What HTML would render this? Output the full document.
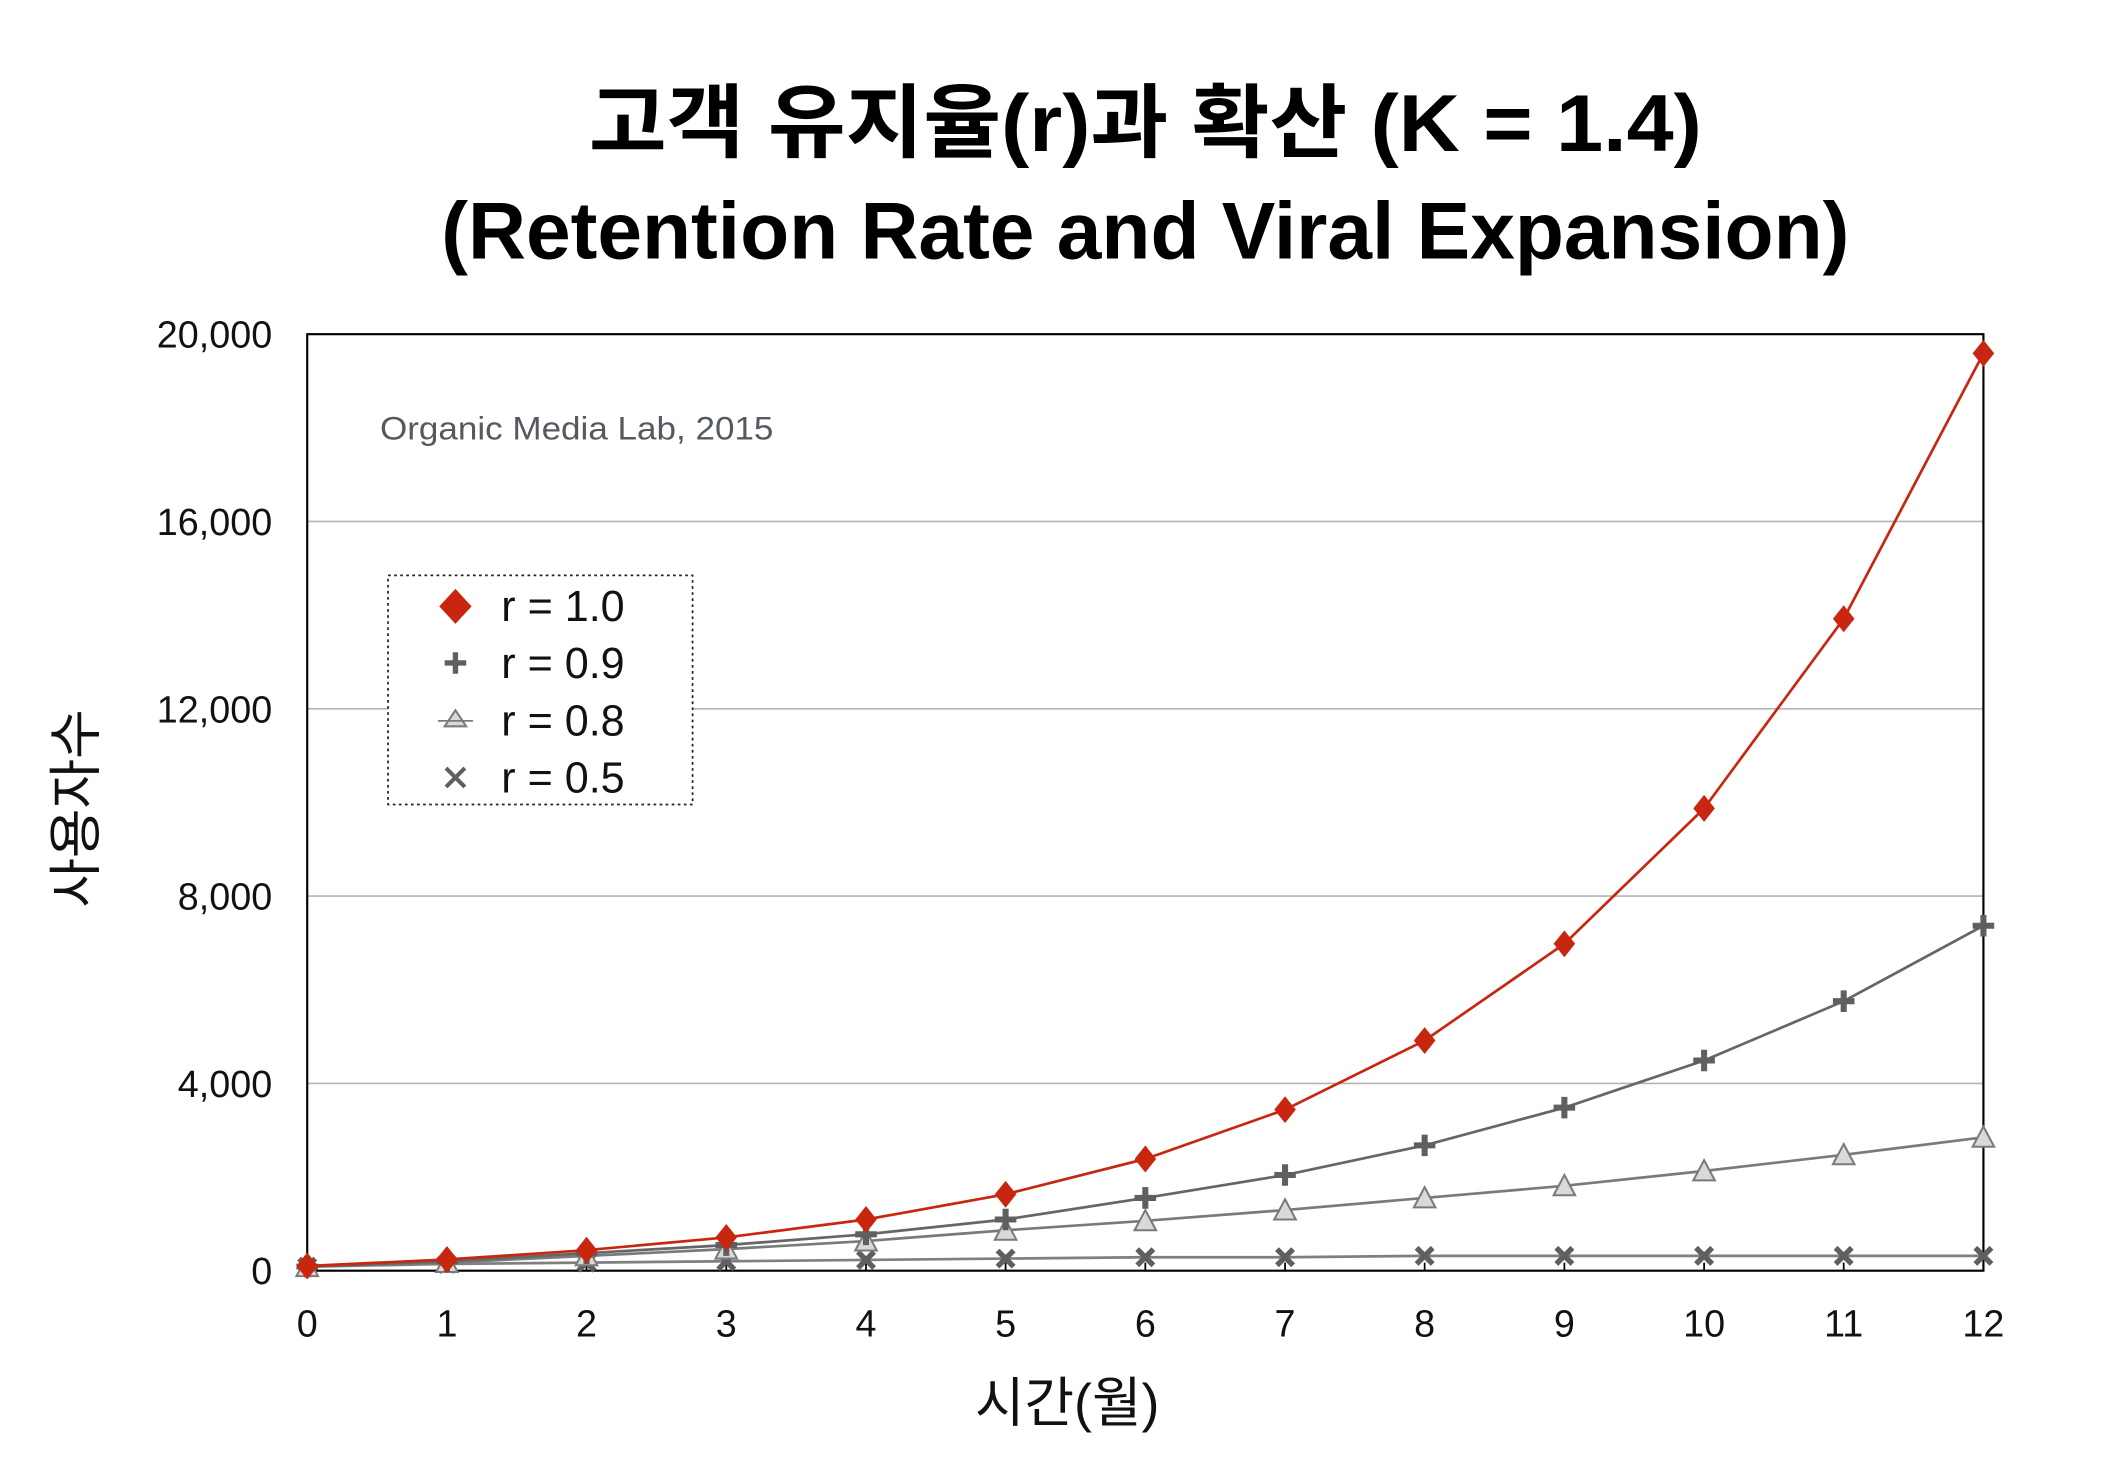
<!DOCTYPE html>
<html><head><meta charset="utf-8"><style>
html,body{margin:0;padding:0;background:#fff;}
svg{display:block;}
text{font-family:"Liberation Sans","Noto Sans CJK KR",sans-serif;}
</style></head><body>
<svg width="2102" height="1458" viewBox="0 0 1560 1082" preserveAspectRatio="none" xmlns="http://www.w3.org/2000/svg">
<defs>
<marker id="dia" markerUnits="userSpaceOnUse" markerWidth="20" markerHeight="24" refX="10" refY="12" overflow="visible"><path d="M10 2 L18 12 L10 22 L2 12 Z" fill="#c8260f"/></marker>
<marker id="plus" markerUnits="userSpaceOnUse" markerWidth="20" markerHeight="20" refX="10" refY="10" overflow="visible"><path d="M10 2 V18 M2 10 H18" stroke="#5f5f5f" stroke-width="4.5"/></marker>
<marker id="tri" markerUnits="userSpaceOnUse" markerWidth="20" markerHeight="20" refX="10" refY="10" overflow="visible"><path d="M10 2 L18 17 L2 17 Z" fill="#d8d9db" stroke="#7a7a7a" stroke-width="1.5"/></marker>
<marker id="x" markerUnits="userSpaceOnUse" markerWidth="20" markerHeight="20" refX="10" refY="10" overflow="visible"><path d="M4 4 L16 16 M16 4 L4 16" stroke="#5f5f5f" stroke-width="4"/></marker>
</defs>
<text x="850" y="112" text-anchor="middle" font-size="60" font-weight="bold" textLength="826" lengthAdjust="spacingAndGlyphs">고객 유지율(r)과 확산 (K = 1.4)</text>
<text x="850" y="192" text-anchor="middle" font-size="60" font-weight="bold" textLength="1045" lengthAdjust="spacingAndGlyphs">(Retention Rate and Viral Expansion)</text>
<g stroke="#b4b4b4" stroke-width="1.2">
<line x1="228" y1="387" x2="1472" y2="387"/><line x1="228" y1="526" x2="1472" y2="526"/><line x1="228" y1="665" x2="1472" y2="665"/><line x1="228" y1="804" x2="1472" y2="804"/>
</g>
<rect x="228" y="248" width="1244" height="695" fill="none" stroke="#000" stroke-width="1.6"/>
<g stroke="#000" stroke-width="1.3">
<line x1="331.7" y1="943" x2="331.7" y2="937"/><line x1="435.3" y1="943" x2="435.3" y2="937"/><line x1="539" y1="943" x2="539" y2="937"/><line x1="642.7" y1="943" x2="642.7" y2="937"/><line x1="746.3" y1="943" x2="746.3" y2="937"/><line x1="850" y1="943" x2="850" y2="937"/><line x1="953.7" y1="943" x2="953.7" y2="937"/><line x1="1057.3" y1="943" x2="1057.3" y2="937"/><line x1="1161" y1="943" x2="1161" y2="937"/><line x1="1264.7" y1="943" x2="1264.7" y2="937"/><line x1="1368.3" y1="943" x2="1368.3" y2="937"/>
</g>
<g font-size="28" text-anchor="end" fill="#111">
<text x="202" y="258">20,000</text><text x="202" y="397">16,000</text><text x="202" y="536">12,000</text><text x="202" y="675">8,000</text><text x="202" y="814">4,000</text><text x="202" y="953">0</text>
</g>
<g font-size="28" text-anchor="middle" fill="#111">
<text x="228" y="992">0</text><text x="331.7" y="992">1</text><text x="435.3" y="992">2</text><text x="539" y="992">3</text><text x="642.7" y="992">4</text><text x="746.3" y="992">5</text><text x="850" y="992">6</text><text x="953.7" y="992">7</text><text x="1057.3" y="992">8</text><text x="1161" y="992">9</text><text x="1264.7" y="992">10</text><text x="1368.3" y="992">11</text><text x="1472" y="992">12</text>
</g>
<text x="792" y="1055" text-anchor="middle" font-size="40" fill="#111">시간(월)</text>
<text transform="translate(70,600) rotate(-90)" text-anchor="middle" font-size="40" fill="#111">사용자수</text>
<text x="282" y="326" font-size="24" fill="#555a60" textLength="292" lengthAdjust="spacingAndGlyphs">Organic Media Lab, 2015</text>
<polyline fill="none" stroke="#7f7f7f" stroke-width="2" marker-start="url(#x)" marker-mid="url(#x)" marker-end="url(#x)" points="228,940 331.7,938 435.3,937 539,936 642.7,935 746.3,934 850,933 953.7,933 1057.3,932 1161,932 1264.7,932 1368.3,932 1472,932"/>
<polyline fill="none" stroke="#7a7a7a" stroke-width="2" marker-start="url(#tri)" marker-mid="url(#tri)" marker-end="url(#tri)" points="228,940 331.7,937 435.3,932 539,927 642.7,921 746.3,913 850,906 953.7,898 1057.3,889 1161,880 1264.7,869 1368.3,857 1472,844"/>
<polyline fill="none" stroke="#666" stroke-width="2" marker-start="url(#plus)" marker-mid="url(#plus)" marker-end="url(#plus)" points="228,940 331.7,936 435.3,930 539,924 642.7,916 746.3,905 850,889 953.7,872 1057.3,850 1161,822 1264.7,787 1368.3,743 1472,687"/>
<polyline fill="none" stroke="#c8260f" stroke-width="2" stroke-linejoin="round" marker-start="url(#dia)" marker-mid="url(#dia)" marker-end="url(#dia)" points="228,939.5 331.7,934.7 435.3,927.8 539,918.3 642.7,905 746.3,886.3 850,860.1 953.7,823.5 1057.3,772.2 1161,700.4 1264.7,599.9 1368.3,459.2 1472,262.2"/>
<rect x="288" y="427" width="226" height="170" fill="#fff" stroke="#222" stroke-width="1.3" stroke-dasharray="2,2.5"/>
<path d="M338 437 L350 450 L338 463 L326 450 Z" fill="#c8260f"/>
<path d="M338 484 V500 M330 492 H346" stroke="#5f5f5f" stroke-width="4"/>
<path d="M338 527 L346 539 L330 539 Z" fill="#d8d9db" stroke="#7a7a7a" stroke-width="1.5"/><line x1="325" y1="535" x2="351" y2="535" stroke="#7a7a7a" stroke-width="1.3"/>
<path d="M331 570 L345 584 M345 570 L331 584" stroke="#5f5f5f" stroke-width="3"/>
<g font-size="32" fill="#111">
<text x="372" y="461">r = 1.0</text><text x="372" y="503">r = 0.9</text><text x="372" y="546">r = 0.8</text><text x="372" y="588">r = 0.5</text>
</g>
</svg>
</body></html>
